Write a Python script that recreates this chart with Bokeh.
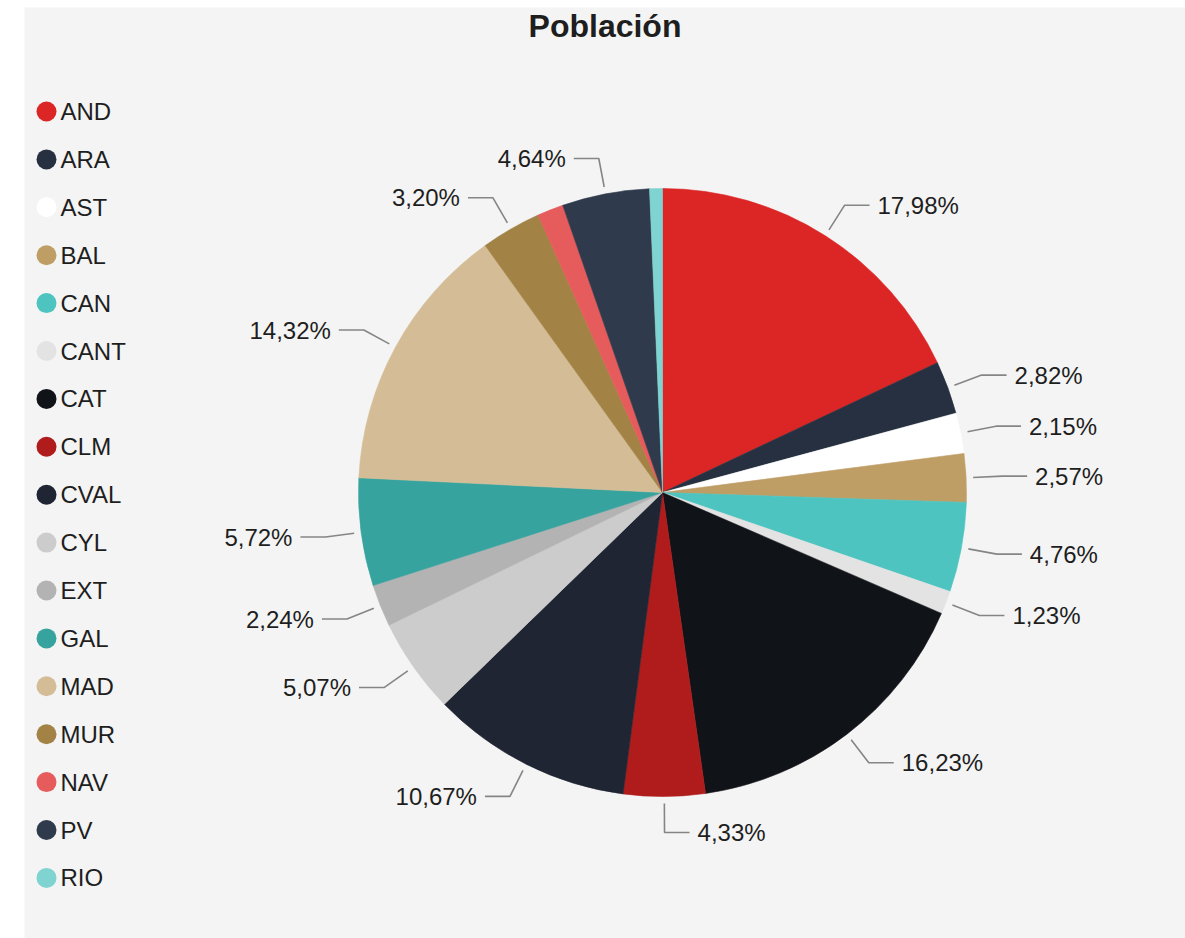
import math
from bokeh.plotting import figure
from bokeh.models import Range1d, ColumnDataSource
from bokeh.core.properties import value
from bokeh.embed import file_html
from bokeh.resources import INLINE

# ---- data ----
title_text = "Población"
regions = ["AND", "ARA", "AST", "BAL", "CAN", "CANT", "CAT", "CLM", "CVAL",
           "CYL", "EXT", "GAL", "MAD", "MUR", "NAV", "PV", "RIO"]
shares = [17.98, 2.82, 2.15, 2.57, 4.76, 1.23, 16.23, 4.33, 10.67,
          5.07, 2.24, 5.72, 14.32, 3.20, 1.39, 4.64, 0.68]
show_label = [True, True, True, True, True, True, True, True, True,
              True, True, True, True, True, False, True, False]
colors = ["#dc2525", "#263040", "#ffffff", "#bf9e66", "#4dc4bf", "#e3e3e3",
          "#101318", "#b01c1c", "#1f2532", "#cccccc", "#b3b3b3", "#37a39e",
          "#d4bd96", "#a28345", "#e65b5b", "#2f3b4c", "#7fd3d1"]

# ---- layout (page pixels) ----
PAGE_BOTTOM = 938
def py(y):
    return PAGE_BOTTOM - y

W, H = 1185, 938
p = figure(width=W, height=H, output_backend="svg", toolbar_location=None,
           x_range=Range1d(24, 1185), y_range=Range1d(0, 931),
           x_axis_location=None, y_axis_location=None,
           min_border_left=24, min_border_right=0, min_border_top=7, min_border_bottom=0,
           background_fill_color="#f4f4f4", border_fill_color="white",
           outline_line_color=None)
p.grid.visible = False

FONT = value("Liberation Sans")
TEXT_COLOR = "#1e1e1e"

# title
p.text(x=[604.5], y=[py(25)], text=[title_text], text_font=FONT,
       text_font_size="32px", text_font_style="bold", text_color=TEXT_COLOR,
       text_align="center", text_baseline="middle")

# pie
cx, cy, R = 662, py(492), 304
total = sum(shares)
starts, ends, mids = [], [], []
cum = 0.0
for v in shares:
    a0 = math.pi / 2 - cum / total * 2 * math.pi
    cum += v
    a1 = math.pi / 2 - cum / total * 2 * math.pi
    starts.append(a1)
    ends.append(a0)
    mids.append((a0 + a1) / 2)

src = ColumnDataSource(dict(start=starts, end=ends, color=colors))
p.wedge(x=cx, y=cy, radius=R, start_angle="start", end_angle="end",
        fill_color="color", line_color="color", line_width=0.6, source=src)

# leader lines and labels
xs, ys, lx, ly, lt, la = [], [], [], [], [], []
r1, r2, HL, GAP = 311, 340, 25, 8
for v, m, show in zip(shares, mids, show_label):
    if not show:
        continue
    c, s = math.cos(m), math.sin(m)
    x1, y1 = cx + r1 * c, cy + r1 * s
    x2, y2 = cx + r2 * c, cy + r2 * s
    side = 1 if c >= 0 else -1
    x3 = x2 + side * HL
    xs.append([x1, x2, x3])
    ys.append([y1, y2, y2])
    lx.append(x3 + side * GAP)
    ly.append(y2)
    lt.append(f"{v:.2f}".replace(".", ",") + "%")
    la.append("left" if side > 0 else "right")

p.multi_line(xs=xs, ys=ys, line_color="#858585", line_width=1.6)
p.text(x=lx, y=ly, text=lt, text_align=la, text_baseline="middle",
       text_font=FONT, text_font_size="24px", text_color=TEXT_COLOR)

# legend
LEG_TOP, LEG_STEP = 111, 47.9
leg_y = [py(LEG_TOP + i * LEG_STEP) for i in range(len(regions))]
p.scatter(x=[46] * len(regions), y=leg_y, size=20, marker="circle",
          fill_color=colors, line_color=None)
p.text(x=[60] * len(regions), y=leg_y, text=regions, text_align="left",
       text_baseline="middle", text_font=FONT, text_font_size="24px",
       text_color=TEXT_COLOR)

open("out.html", "w").write(file_html(p, INLINE))
